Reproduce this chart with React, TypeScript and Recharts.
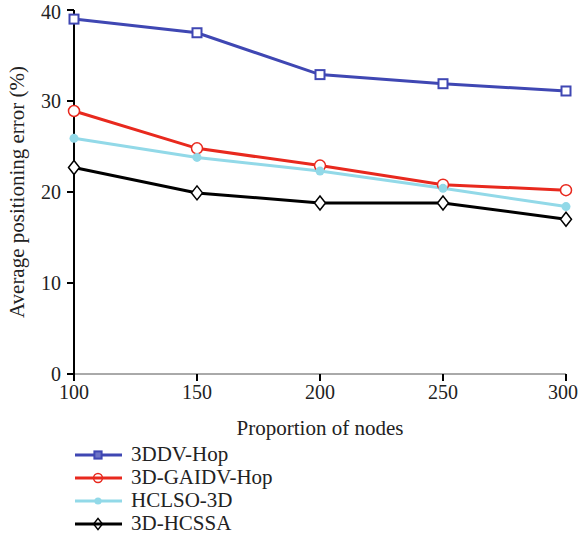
import React from 'react'
import { LineChart, Line, XAxis, YAxis, Legend } from 'recharts'

const nodes = [100, 150, 200, 250, 300]
const ddvHop = [39.0, 37.5, 32.9, 31.9, 31.1]
const gaidvHop = [28.9, 24.8, 22.9, 20.8, 20.2]
const hclso = [25.9, 23.8, 22.3, 20.4, 18.4]
const hcssa = [22.7, 19.9, 18.8, 18.8, 17.0]
const yTicks = [0, 10, 20, 30, 40]

const data = nodes.map((n, i) => ({
  n,
  ddv: ddvHop[i],
  gaidv: gaidvHop[i],
  hclso: hclso[i],
  hcssa: hcssa[i],
}))

const FONT = '"Liberation Serif", "DejaVu Serif", serif'

type Shape = 'square' | 'circle' | 'dot' | 'diamond'

const series: { key: string; name: string; color: string; shape: Shape }[] = [
  { key: 'ddv', name: '3DDV-Hop', color: '#3f47b3', shape: 'square' },
  { key: 'gaidv', name: '3D-GAIDV-Hop', color: '#e8291e', shape: 'circle' },
  { key: 'hclso', name: 'HCLSO-3D', color: '#92d9e8', shape: 'dot' },
  { key: 'hcssa', name: '3D-HCSSA', color: '#000000', shape: 'diamond' },
]

const marker = (shape: Shape, color: string, cx: number, cy: number, k = 1, fill = '#fff') => {
  if (shape === 'square') {
    const s = 9 * k
    return <rect x={cx - s / 2} y={cy - s / 2} width={s} height={s} fill={fill} stroke={color} strokeWidth={2} />
  }
  if (shape === 'circle') {
    return <circle cx={cx} cy={cy} r={5.5 * k} fill={fill} stroke={color} strokeWidth={1.5} />
  }
  if (shape === 'dot') {
    return <circle cx={cx} cy={cy} r={4.5 * k} fill={color} stroke="none" />
  }
  const w = 5.5 * k
  const h = 7 * k
  return (
    <path
      d={`M${cx},${cy - h}L${cx + w},${cy}L${cx},${cy + h}L${cx - w},${cy}Z`}
      fill={fill}
      stroke={color}
      strokeWidth={1.5}
    />
  )
}

const makeDot = (shape: Shape, color: string) => (props: any) => {
  const { cx, cy, index } = props
  if (cx == null || cy == null) return <g key={index} />
  return <g key={index}>{marker(shape, color, cx, cy)}</g>
}

// legend icons: line runs through the marker
const renderLegend = () => (
  <div style={{ fontFamily: FONT, fontSize: 21, color: '#222', lineHeight: '23px' }}>
    {series.map((s) => (
      <div key={s.key} style={{ display: 'flex', alignItems: 'center' }}>
        <svg width={50} height={20} style={{ marginRight: 7 }}>
          <line x1={1} y1={10} x2={48} y2={10} stroke={s.color} strokeWidth={3} />
          {marker(s.shape, s.color, 24, 10, 0.8, s.shape === 'square' ? '#6d73c6' : 'none')}
        </svg>
        <span>{s.name}</span>
      </div>
    ))}
  </div>
)

export default function App() {
  return (
    <div style={{ position: 'absolute', left: 0, top: 0 }}>
      <LineChart
        width={578}
        height={537}
        data={data}
        margin={{ top: 10, right: 12, left: 0, bottom: 133 }}
      >
        <XAxis
          dataKey="n"
          type="number"
          domain={[100, 300]}
          ticks={nodes}
          tickSize={7}
          tickMargin={4}
          stroke="#555"
          height={30}
          tick={{ fill: '#222', fontSize: 20, fontFamily: FONT }}
          tickLine={{ stroke: '#000', strokeWidth: 2 }}
          label={{
            value: 'Proportion of nodes',
            position: 'insideTop',
            dy: 41,
            style: { fill: '#222', fontSize: 21, fontFamily: FONT },
          }}
        />
        <XAxis xAxisId="top" orientation="top" dataKey="n" type="number" domain={[100, 300]} height={0} tick={false} tickLine={false} stroke="#000" />
        <YAxis
          domain={[0, 40]}
          ticks={yTicks}
          width={74}
          tickSize={7}
          tickMargin={6}
          stroke="#000"
          axisLine={{ stroke: '#000', strokeWidth: 2 }}
          tickLine={{ stroke: '#000', strokeWidth: 2 }}
          tick={{ fill: '#222', fontSize: 20, fontFamily: FONT }}
          label={{
            value: 'Average positioning error (%)',
            angle: -90,
            position: 'insideLeft',
            dx: 12,
            style: { textAnchor: 'middle', fill: '#222', fontSize: 21, fontFamily: FONT },
          }}
        />
        <YAxis yAxisId="right" orientation="right" width={0} domain={[0, 40]} tick={false} tickLine={false} stroke="#666" />
        {series.map((s) => (
          <Line
            key={s.key}
            dataKey={s.key}
            name={s.name}
            stroke={s.color}
            strokeWidth={3}
            dot={makeDot(s.shape, s.color)}
            activeDot={false}
            isAnimationActive={false}
          />
        ))}
        <Legend
          layout="vertical"
          align="center"
          verticalAlign="middle"
          content={renderLegend}
          wrapperStyle={{ left: 74, top: 443, width: 300 }}
        />
      </LineChart>
    </div>
  )
}
